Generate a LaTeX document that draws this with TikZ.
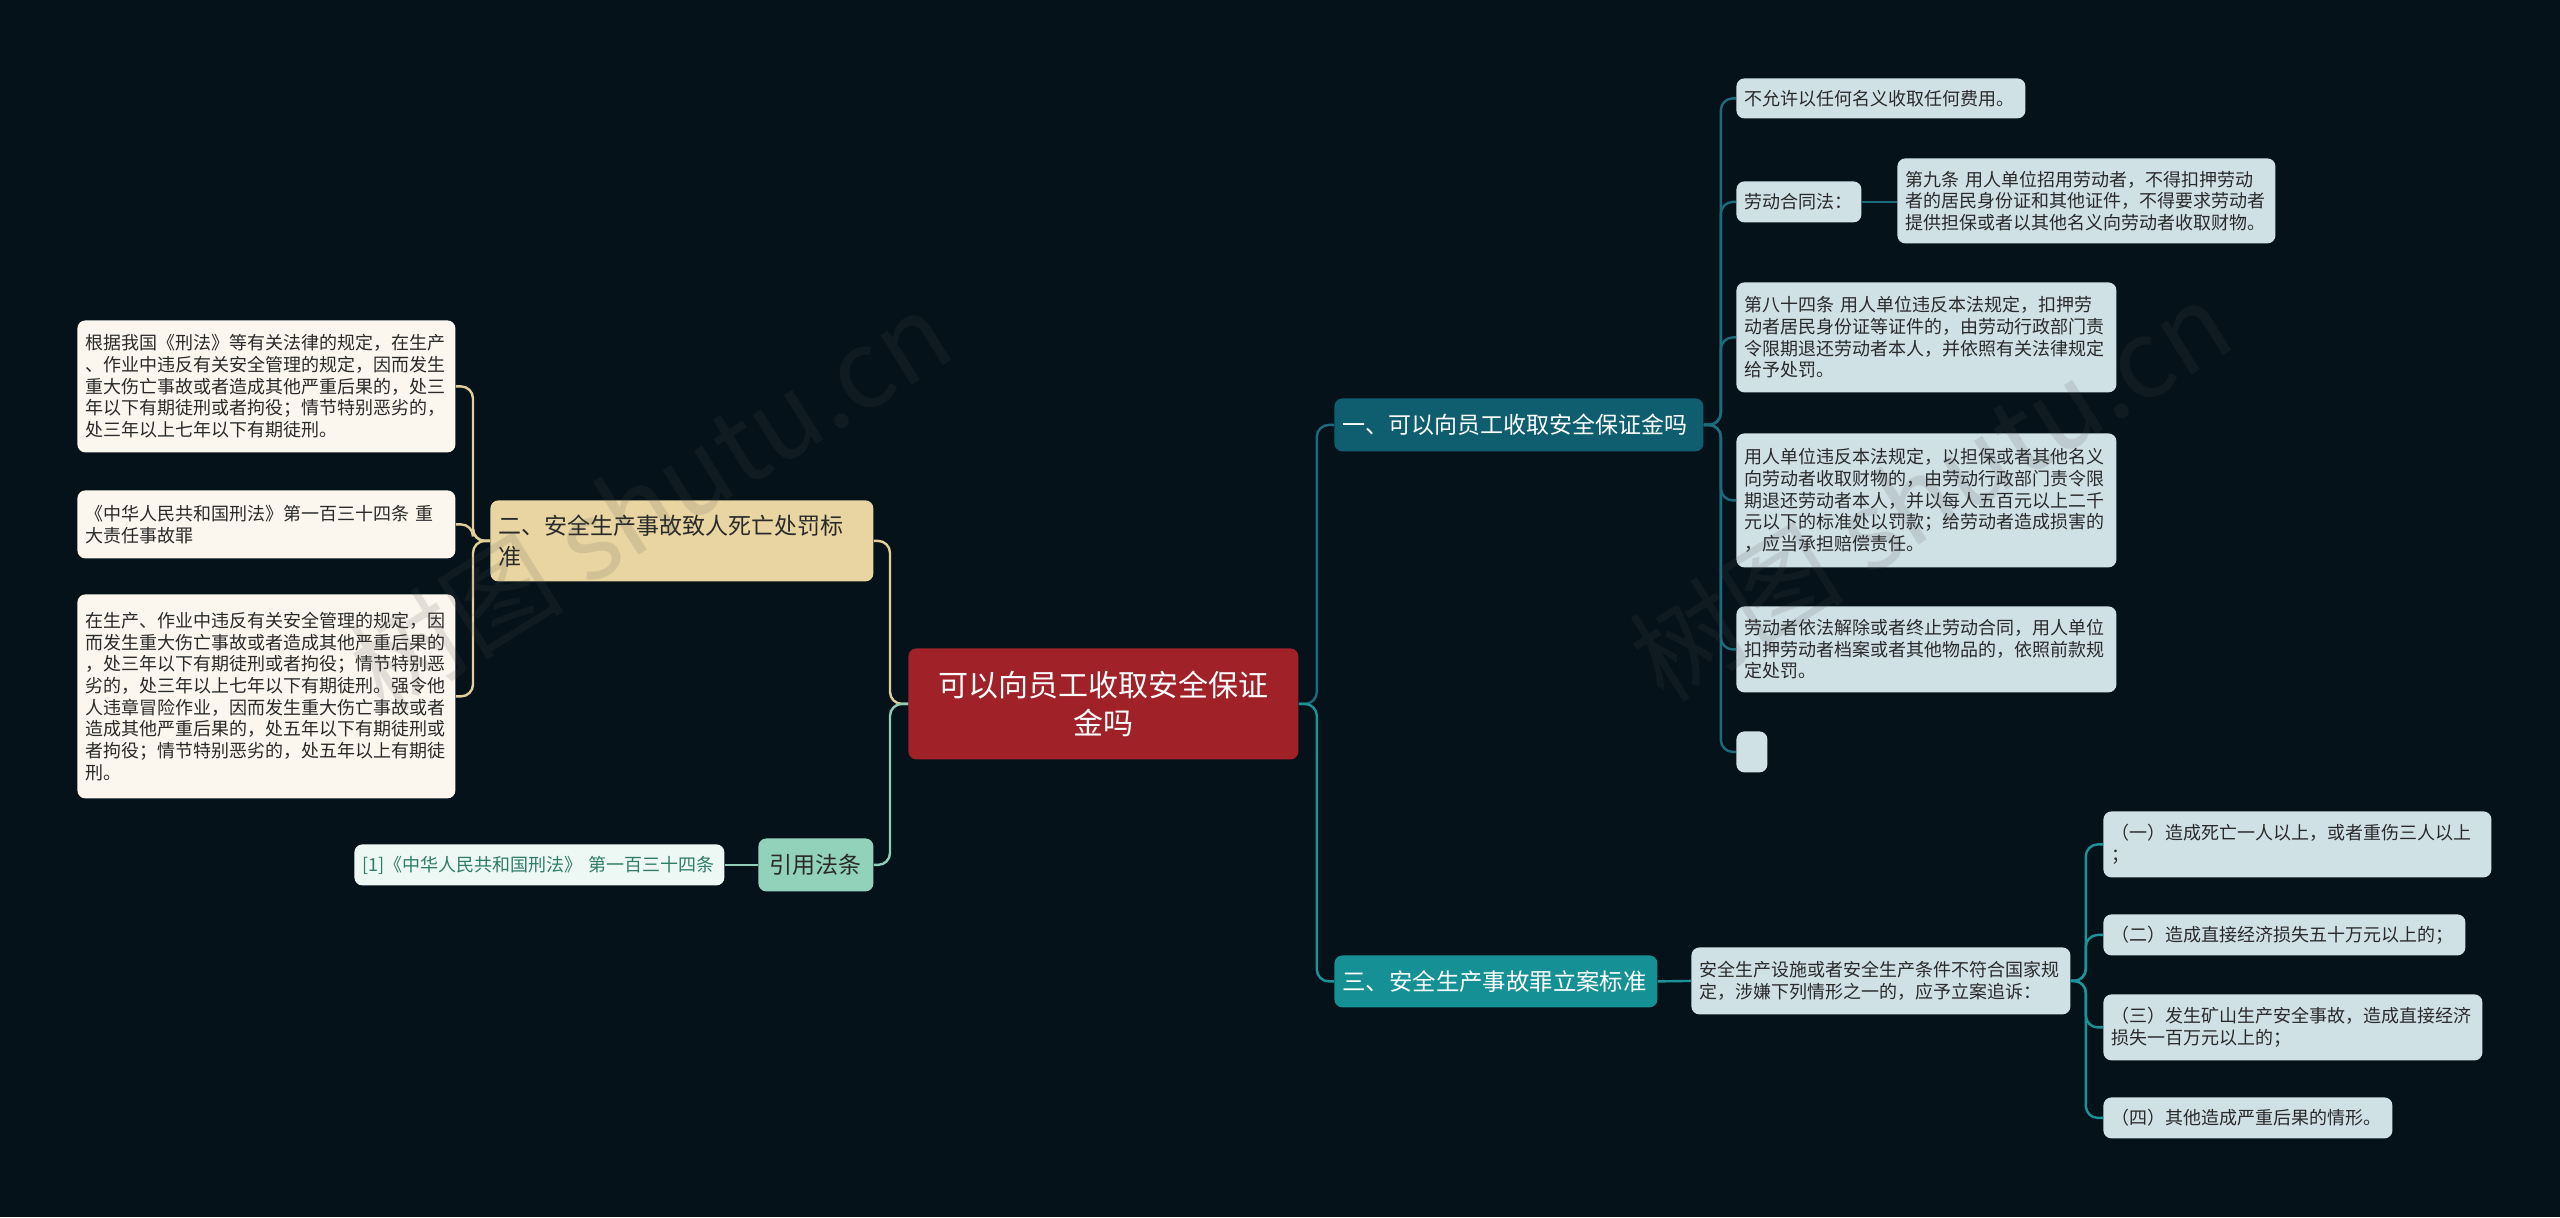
\documentclass[tikz,border=0pt]{standalone}
\usepackage{fontspec}
\setmainfont{Noto Sans CJK SC}
\definecolor{bg}{HTML}{06121A}
\definecolor{rootc}{HTML}{A02228}
\definecolor{bone}{HTML}{0F5E70}
\definecolor{bthree}{HTML}{159094}
\definecolor{lfr}{HTML}{D0E1E6}
\definecolor{btwo}{HTML}{E8D5A2}
\definecolor{lfl}{HTML}{FBF7EE}
\definecolor{bfour}{HTML}{93D2BA}
\definecolor{lff}{HTML}{EDF7F3}
\definecolor{tfour}{HTML}{2E7D68}
\definecolor{cone}{HTML}{1D6A7B}
\definecolor{cthree}{HTML}{1A9499}
\definecolor{ctwo}{HTML}{E2CE99}
\definecolor{cfour}{HTML}{8FCDB6}
\definecolor{tx}{HTML}{2A2A2A}
\tikzset{
  box/.style={rounded corners=4pt, anchor=north west, inner xsep=4pt, inner ysep=0pt, align=left, text=tx},
  leaffont/.style={font=\fontsize{9}{10.85}\selectfont},
  rleaf/.style={box, leaffont, fill=lfr},
  lleaf/.style={box, leaffont, fill=lfl},
  fleaf/.style={box, leaffont, fill=lff, text=tfour},
  conn/.style={line width=1.2pt, rounded corners=6pt},
  wm/.style={text=black!70!white, text opacity=0.14, font=\fontsize{54}{54}\selectfont, rotate=32}
}
\begin{document}
\begin{tikzpicture}[x=0.5pt,y=-0.5pt]
\fill[bg] (0,0) rectangle (2560,1217);

% root
\node[box, fill=rootc, text=white, align=center, text width=187pt, minimum height=55.5pt,
  font=\fontsize{15}{19}\selectfont] (root) at (908,648) {可以向员工收取安全保证\\金吗};

% branches
\node[box, fill=bone, text=white, text width=176.5pt, minimum height=26.5pt,
  font=\fontsize{11.5}{14}\selectfont] (bone) at (1334,398) {一、可以向员工收取安全保证金吗};
\node[box, fill=bthree, text=white, text width=153.5pt, minimum height=26pt,
  font=\fontsize{11.7}{14}\selectfont] (bthree) at (1334,955) {三、安全生产事故罪立案标准};
\node[box, fill=btwo, text=tx, text width=183.5pt, minimum height=40.5pt,
  font=\fontsize{11.5}{15.5}\selectfont] (btwo) at (490,500) {二、安全生产事故致人死亡处罚标\\准};
\node[box, fill=bfour, text=tx, align=center, text width=49.5pt, minimum height=26.5pt,
  font=\fontsize{11.5}{14}\selectfont] (bfour) at (758,838) {引用法条};

% left leaves
\node[lleaf, text width=181pt, minimum height=66pt] (la) at (77,320) {根据我国《刑法》等有关法律的规定，在生产\\、作业中违反有关安全管理的规定，因而发生\\重大伤亡事故或者造成其他严重后果的，处三\\年以下有期徒刑或者拘役；情节特别恶劣的，\\处三年以上七年以下有期徒刑。};
\node[lleaf, text width=181pt, minimum height=34pt] (lb) at (77,490) {《中华人民共和国刑法》第一百三十四条~重\\大责任事故罪};
\node[lleaf, text width=181pt, minimum height=102pt] (lc) at (77,594) {在生产、作业中违反有关安全管理的规定，因\\而发生重大伤亡事故或者造成其他严重后果的\\，处三年以下有期徒刑或者拘役；情节特别恶\\劣的，处三年以上七年以下有期徒刑。强令他\\人违章冒险作业，因而发生重大伤亡事故或者\\造成其他严重后果的，处五年以下有期徒刑或\\者拘役；情节特别恶劣的，处五年以上有期徒\\刑。};
\node[fleaf, text width=177pt, minimum height=20.5pt] (ld) at (354,844) {[1]《中华人民共和国刑法》~第一百三十四条};

% right leaves of branch one
\node[rleaf, text width=136.5pt, minimum height=20pt] (ra) at (1736,78) {不允许以任何名义收取任何费用。};
\node[rleaf, text width=54.5pt, minimum height=20.5pt] (rb) at (1736,181) {劳动合同法：};
\node[rleaf, text width=181pt, minimum height=42.5pt] (rb1) at (1897,158) {第九条~用人单位招用劳动者，不得扣押劳动\\者的居民身份证和其他证件，不得要求劳动者\\提供担保或者以其他名义向劳动者收取财物。};
\node[rleaf, text width=182pt, minimum height=55pt] (rc) at (1736,282) {第八十四条~用人单位违反本法规定，扣押劳\\动者居民身份证等证件的，由劳动行政部门责\\令限期退还劳动者本人，并依照有关法律规定\\给予处罚。};
\node[rleaf, text width=182pt, minimum height=67pt] (rd) at (1736,433) {用人单位违反本法规定，以担保或者其他名义\\向劳动者收取财物的，由劳动行政部门责令限\\期退还劳动者本人，并以每人五百元以上二千\\元以下的标准处以罚款；给劳动者造成损害的\\，应当承担赔偿责任。};
\node[rleaf, text width=182pt, minimum height=43pt] (re) at (1736,606) {劳动者依法解除或者终止劳动合同，用人单位\\扣押劳动者档案或者其他物品的，依照前款规\\定处罚。};
\node[rleaf, text width=7.5pt, minimum height=20.5pt] (rf) at (1736,731) {};

% branch three
\node[rleaf, text width=181.5pt, minimum height=33.5pt] (sa) at (1691,947) {安全生产设施或者安全生产条件不符合国家规\\定，涉嫌下列情形之一的，应予立案追诉：};
\node[rleaf, text width=186pt, minimum height=33pt] (sb) at (2103,811) {（一）造成死亡一人以上，或者重伤三人以上\\；};
\node[rleaf, text width=173pt, minimum height=20.5pt] (sc) at (2103,914) {（二）造成直接经济损失五十万元以上的；};
\node[rleaf, text width=181.5pt, minimum height=33pt] (sd) at (2103,994) {（三）发生矿山生产安全事故，造成直接经济\\损失一百万元以上的；};
\node[rleaf, text width=136.5pt, minimum height=20.5pt] (se) at (2103,1097) {（四）其他造成严重后果的情形。};

% connectors root
\draw[conn, cone] (root.east) -- ++(18,0) |- (bone.west);
\draw[conn, cthree] (root.east) -- ++(18,0) |- (bthree.west);
\draw[conn, ctwo] (root.west) -- ++(-18,0) |- (btwo.east);
\draw[conn, cfour] (root.west) -- ++(-18,0) |- (bfour.east);

% branch one
\foreach \n in {ra,rb,rc,rd,re,rf}{
  \draw[conn, cone] (bone.east) -- ++(17,0) |- (\n.west);
}
\draw[conn, cone] (rb.east) -- (rb1.west |- rb.east);

% branch three
\draw[conn, cthree] (bthree.east) -- (sa.west);
\foreach \n in {sb,sc,sd,se}{
  \draw[conn, cthree] (sa.east) -- ++(15,0) |- (\n.west);
}

% branch two
\foreach \n in {la,lb,lc}{
  \draw[conn, ctwo] (btwo.west) -- ++(-17,0) |- (\n.east);
}
\draw[conn, cfour] (bfour.west) -- (ld.east);

% watermark
\node[wm] (wma) at (650,500) {树图 shutu.cn};
\node[wm] (wmb) at (1930,490) {树图 shutu.cn};
\end{tikzpicture}
\end{document}
